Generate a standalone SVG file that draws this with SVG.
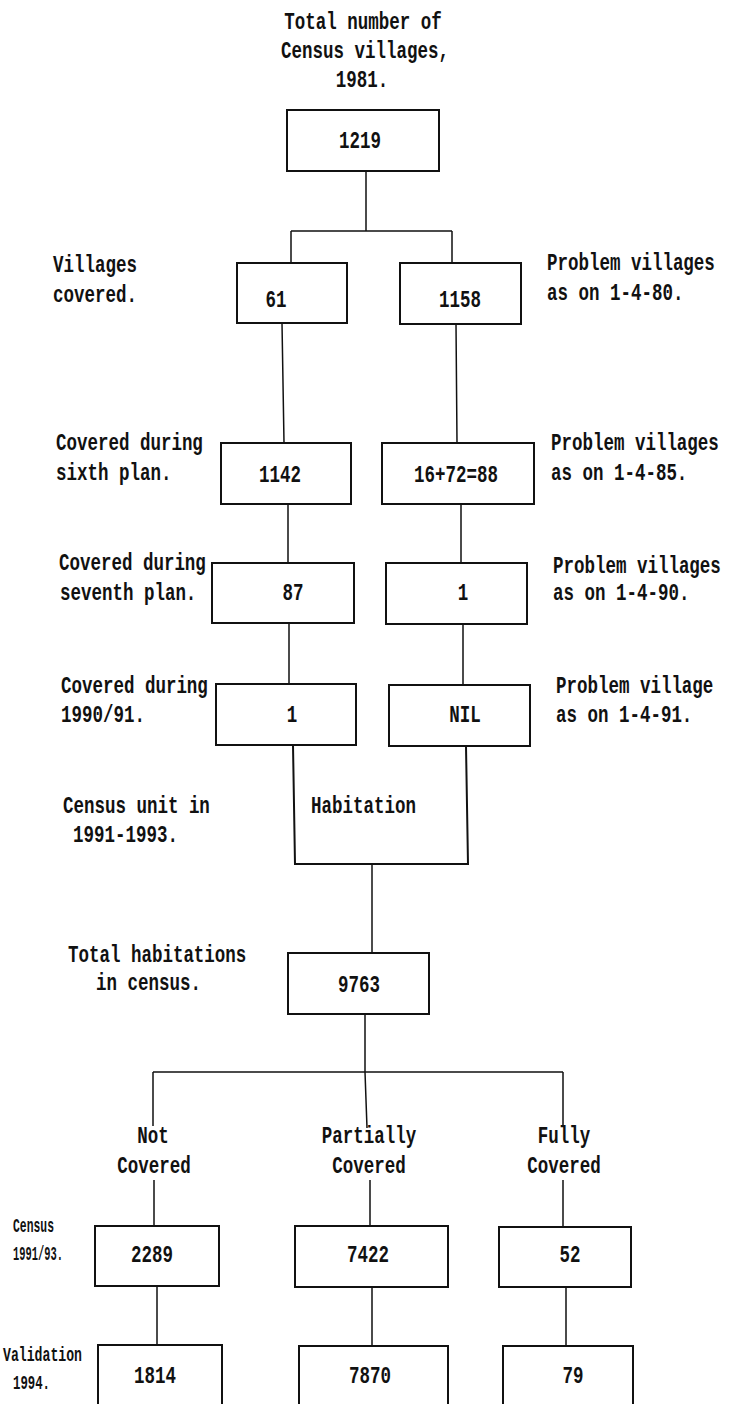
<svg xmlns="http://www.w3.org/2000/svg" width="729" height="1404" viewBox="0 0 729 1404">
<style>
text{font-family:"Liberation Mono","DejaVu Sans Mono",monospace;font-size:17.5px;font-weight:bold;fill:#111;transform:scale(1,1.4);transform-origin:0 0}
.c{text-anchor:middle}
.box{fill:#fff;stroke:#111;stroke-width:2}
.ln{fill:none;stroke:#111;stroke-width:1.5}
.sm{font-size:15px}
</style>
<rect width="729" height="1404" fill="#fff"/>
<g id="connectors">
<path class="ln" d="M366,171 V231 M291,231 H452 M291,231 V263 M452,231 V263"/>
<path class="ln" d="M282,323 L284,443 M456,324 L457,443"/>
<path class="ln" d="M288,504 V563 M461,504 V563"/>
<path class="ln" d="M289,623 V684 M463,624 V685"/>
<path class="ln" d="M372,864 V953"/>
<path class="ln" d="M365,1014 V1072 M153,1072 H563 M153,1072 V1126 M365,1072 L367,1128 M563,1072 V1127"/>
<path class="ln" d="M154,1180 V1226 M370,1180 V1226 M563,1180 V1227"/>
<path class="ln" d="M157,1286 V1345 M372,1287 V1346 M566,1287 V1346"/>
</g>
<g id="title">
<text class="c" x="363" y="20.71">Total number of</text>
<text class="c" x="365" y="41.43">Census villages,</text>
<text class="c" x="362" y="62.14">1981.</text>
</g>
<g id="n1219"><rect class="box" x="287" y="110" width="152" height="61"/><text class="c" x="360" y="105.71">1219</text></g>
<g id="n61"><rect class="box" x="237" y="263" width="110" height="60"/><text class="c" x="276" y="219.5">61</text></g>
<g id="n1158"><rect class="box" x="400" y="263" width="121" height="61"/><text class="c" x="460" y="219.5">1158</text></g>
<g id="lbl-villages-covered"><text x="53" y="194.29">Villages</text><text x="53" y="215.71">covered.</text></g>
<g id="lbl-problem-80"><text x="547" y="192.86">Problem villages</text><text x="547" y="214.29">as on 1-4-80.</text></g>
<g id="n1142"><rect class="box" x="221" y="443" width="130" height="61"/><text class="c" x="280" y="344.29">1142</text></g>
<g id="n88"><rect class="box" x="382" y="443" width="152" height="61"/><text class="c" x="456" y="344.29">16+72=88</text></g>
<g id="lbl-sixth"><text x="56" y="321.43">Covered during</text><text x="56" y="342.86">sixth plan.</text></g>
<g id="lbl-problem-85"><text x="551" y="321.43">Problem villages</text><text x="551" y="342.86">as on 1-4-85.</text></g>
<g id="n87"><rect class="box" x="212" y="563" width="142" height="60"/><text class="c" x="293" y="428.57">87</text></g>
<g id="n1a"><rect class="box" x="386" y="563" width="141" height="61"/><text class="c" x="463" y="428.57">1</text></g>
<g id="lbl-seventh"><text x="59" y="407.14">Covered during</text><text x="60" y="428.57">seventh plan.</text></g>
<g id="lbl-problem-90"><text x="553" y="409.29">Problem villages</text><text x="553" y="428.57">as on 1-4-90.</text></g>
<g id="n1b"><rect class="box" x="216" y="684" width="140" height="61"/><text class="c" x="292" y="515.71">1</text></g>
<g id="nNIL"><rect class="box" x="389" y="685" width="141" height="61"/><text class="c" x="465" y="515.71">NIL</text></g>
<g id="lbl-1990"><text x="61" y="495">Covered during</text><text x="61" y="515.71">1990/91.</text></g>
<g id="lbl-problem-91"><text x="556" y="495">Problem village</text><text x="556" y="515.71">as on 1-4-91.</text></g>
<g id="habitation"><path class="ln" style="stroke-width:2" d="M293,745 L295,864 H468 L466,746"/><text x="311" y="580.71">Habitation</text></g>
<g id="lbl-census-unit"><text x="63" y="580.71">Census unit in</text><text x="73" y="601.43">1991-1993.</text></g>
<g id="n9763"><rect class="box" x="288" y="953" width="141" height="61"/><text class="c" x="359" y="708.57">9763</text></g>
<g id="lbl-total-hab"><text x="68" y="687.14">Total habitations</text><text x="96" y="707.14">in census.</text></g>
<g id="lbl-not"><text class="c" x="153" y="816.43">Not</text><text class="c" x="154" y="837.86">Covered</text></g>
<g id="lbl-partially"><text class="c" x="369" y="816.43">Partially</text><text class="c" x="369" y="837.86">Covered</text></g>
<g id="lbl-fully"><text class="c" x="564" y="816.43">Fully</text><text class="c" x="564" y="837.86">Covered</text></g>
<g id="lbl-census9193"><text class="sm" x="13" y="880" textLength="41" lengthAdjust="spacingAndGlyphs">Census</text><text class="sm" x="13" y="900" textLength="50" lengthAdjust="spacingAndGlyphs">1991/93.</text></g>
<g id="lbl-validation"><text class="sm" x="3" y="972" textLength="79" lengthAdjust="spacingAndGlyphs">Validation</text><text class="sm" x="13" y="992" textLength="37" lengthAdjust="spacingAndGlyphs">1994.</text></g>
<g id="n2289"><rect class="box" x="95" y="1226" width="124" height="60"/><text class="c" x="152" y="901.43">2289</text></g>
<g id="n7422"><rect class="box" x="295" y="1226" width="153" height="61"/><text class="c" x="368" y="901.43">7422</text></g>
<g id="n52"><rect class="box" x="499" y="1227" width="132" height="60"/><text class="c" x="570" y="901.43">52</text></g>
<g id="n1814"><rect class="box" x="98" y="1345" width="124" height="64"/><text class="c" x="155" y="987.86">1814</text></g>
<g id="n7870"><rect class="box" x="299" y="1346" width="149" height="64"/><text class="c" x="370" y="987.86">7870</text></g>
<g id="n79"><rect class="box" x="503" y="1346" width="130" height="64"/><text class="c" x="573" y="987.86">79</text></g>
</svg>
